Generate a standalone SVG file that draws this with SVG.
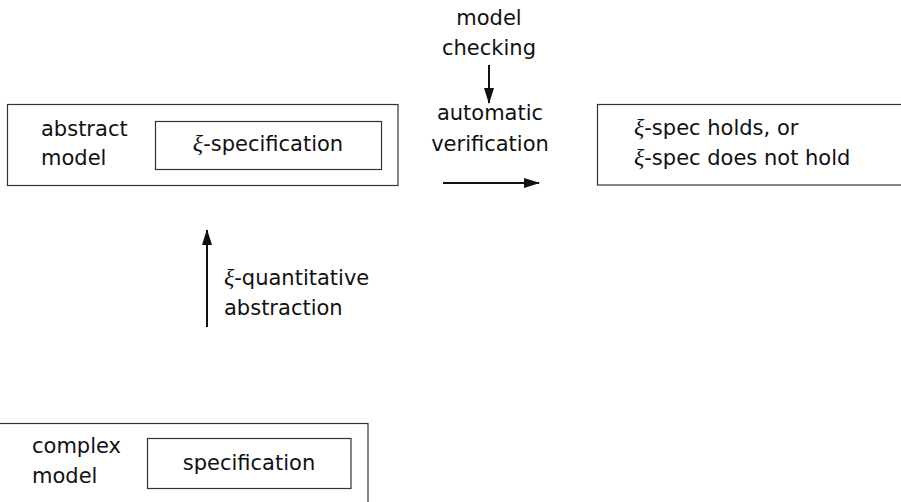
<svg xmlns="http://www.w3.org/2000/svg" width="901" height="502" viewBox="0 0 901 502">
  <defs>
    <style>
      .box { fill: none; stroke: #333; stroke-width: 1.2; }
      .lbl { font-family: "DejaVu Sans", "Open Sans", sans-serif; font-size: 21px; fill: #111; }
      .mid { text-anchor: middle; }
      .xi { font-family: "Liberation Serif", "DejaVu Serif", serif; font-style: italic; font-size: 24px; }
      .edge { stroke: #111; stroke-width: 2; fill: none; }
    </style>
    <marker id="head" viewBox="0 0 16 10" refX="15" refY="5" markerWidth="8" markerHeight="5" markerUnits="strokeWidth" orient="auto">
      <path d="M0,0 L16,5 L0,10 Z" fill="#111"/>
    </marker>
  </defs>

  <g id="abstract-model">
    <rect class="box" x="7.5" y="104.5" width="390.5" height="81"/>
    <text class="lbl" x="41" y="136">abstract</text>
    <text class="lbl" x="41" y="165">model</text>
    <rect class="box" x="155.5" y="121.5" width="226" height="48"/>
    <text class="lbl mid" x="268" y="151"><tspan class="xi">ξ</tspan>-specification</text>
  </g>

  <g id="result">
    <rect class="box" x="597.5" y="104.5" width="320" height="80.5"/>
    <text class="lbl" x="634" y="135"><tspan class="xi">ξ</tspan>-spec holds, or</text>
    <text class="lbl" x="634" y="165"><tspan class="xi">ξ</tspan>-spec does not hold</text>
  </g>

  <g id="complex-model">
    <rect class="box" x="-10" y="423.5" width="378" height="100"/>
    <text class="lbl" x="32" y="453">complex</text>
    <text class="lbl" x="32" y="483">model</text>
    <rect class="box" x="147.5" y="438.5" width="203.5" height="50"/>
    <text class="lbl mid" x="249" y="470">specification</text>
  </g>

  <g id="connectors">
    <line class="edge" x1="489" y1="65" x2="489" y2="103" marker-end="url(#head)"/>
    <line class="edge" x1="443" y1="183" x2="539" y2="183" marker-end="url(#head)"/>
    <line class="edge" x1="207" y1="327" x2="207" y2="230" marker-end="url(#head)"/>
  </g>

  <g id="labels">
    <text class="lbl mid" x="489" y="25">model</text>
    <text class="lbl mid" x="489" y="55">checking</text>
    <text class="lbl mid" x="490" y="120">automatic</text>
    <text class="lbl mid" x="490" y="151">verification</text>
    <text class="lbl" x="224" y="285"><tspan class="xi">ξ</tspan>-quantitative</text>
    <text class="lbl" x="224" y="315">abstraction</text>
  </g>
</svg>
